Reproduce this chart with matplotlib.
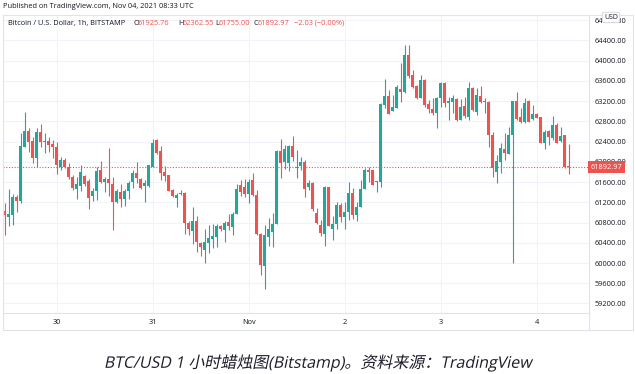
import matplotlib
matplotlib.use("Agg")
import matplotlib.pyplot as plt
from matplotlib.lines import Line2D
from matplotlib.patches import Rectangle
from matplotlib.patheffects import AbstractPathEffect
from matplotlib.transforms import Affine2D
import numpy as np

# Timmesljus BTC/USD (Bitstamp), 29 okt 11:00 -> 4 nov 08:00 UTC
opens = [61035, 60916, 60950, 61312, 61233, 62300, 62610, 62412, 62076, 62590,
         62399, 62410, 62353, 62287, 61905, 62037, 61892, 61694, 61464, 61529,
         61721, 61622, 61325, 61431, 61839, 61596, 61661, 61556, 61213, 61398,
         61259, 61431, 61602, 61773, 61668, 61530, 61530, 61905, 62432, 62215,
         61800, 61740, 61444, 61292, 61358, 61378, 60798, 60640, 60831, 60402,
         60257, 60389, 60475, 60521, 60732,
         60653, 60818, 60719, 60969, 61543, 61510, 61365, 61641, 61345, 60567,
         59948, 60521, 60620, 60772, 62215, 62004, 61971, 62320, 61872, 61918,
         62004, 61497, 61589, 60983, 60752, 60574, 61510, 60666, 60765, 61147,
         60917, 61015, 61391, 60950, 61101, 61464, 61839, 61839, 61596,
         61609, 63124, 63302, 62998, 63058, 63434, 63388, 64113, 63717, 63500,
         63256, 63619, 63144, 63045, 62972, 63256, 63566, 63170, 63190, 63243,
         62828, 63104, 62880, 63467, 62992, 63302, 63190, 63190, 62531, 61806,
         62004, 62254, 62155, 62531, 63203, 62894, 62795, 63203, 62847, 62946,
         62880, 62380, 62617, 62465, 62729, 62419, 62531, 61925.76]
highs = [61180, 61457, 61365, 61338, 62564, 62986, 62663, 62498, 62676, 62755,
         62564, 62498, 62432, 62399, 62103, 62070, 61971, 61740, 61707, 61938,
         61740, 61655, 61477, 61905, 62017, 61707, 62268, 61694, 61457, 61556,
         61457, 61628, 61832, 62004, 61681, 61641, 61938, 62452, 62445, 62314,
         61918, 61740, 61457, 61378, 61444, 61411, 60838, 61114, 60930, 60422,
         60666, 60752, 60765, 60765, 60752,
         60831, 60969, 61015, 61562, 61642, 61655, 61655, 61786, 61444, 60587,
         60752, 60883, 60983, 62235, 62446, 62333, 62333, 62511, 62235, 62103,
         62037, 61641, 61609, 61081, 60851, 61523, 61510, 60930, 61213, 61180,
         61213, 61609, 61477, 61213, 61642, 61872, 61905, 61839, 61628,
         63157, 63632, 63421, 63322, 63520, 63948, 64310, 64310, 63816, 63520,
         63717, 63632, 63223, 63256, 63289, 63586, 63586, 63289, 63322, 63269,
         63243, 63289, 63572, 63474, 63454, 63500, 63256, 63210, 62597, 62136,
         62366, 62564, 62696, 63203, 63388, 63058, 63256, 63223, 63124, 62959,
         62893, 62630, 62630, 62907, 62775, 62683, 62531, 62362.55]
lows = [60554, 60732, 60752, 61015, 61193, 62300, 62202, 61971, 61905, 62300,
        62182, 62202, 62070, 61754, 61840, 61872, 61655, 61444, 61259, 61431,
        61529, 61068, 61233, 61246, 61576, 61411, 61325, 60653, 61193, 61101,
        61134, 61259, 61490, 61576, 61464, 61213, 61510, 61892, 62149, 61641,
        61628, 61424, 61299, 61101, 61345, 60574, 60554, 60376, 60224, 60145,
        59994, 60191, 60290, 60323, 60640,
        60422, 60653, 60554, 60969, 61325, 61312, 61180, 61325, 60561, 59763,
        59486, 60336, 60323, 60772, 61674, 61852, 61820, 62017, 61674, 61840,
        61312, 61444, 61035, 60772, 60541, 60343, 60732, 60455, 60666, 60818,
        60666, 60851, 60864, 60837, 61101, 61464, 61609, 61543, 61411,
        61510, 63058, 62946, 62998, 63058, 63177, 63355, 63652, 63454, 63243,
        63256, 63078, 62959, 62926, 62663, 63078, 63078, 62828, 62972, 62814,
        62828, 62861, 62828, 63012, 62926, 63170, 62972, 62287, 61707, 61576,
        61773, 62037, 62155, 60007, 62828, 62762, 62775, 62795, 62828, 62861,
        62366, 62248, 62334, 62432, 62366, 62399, 61872, 61755.00]
closes = [60943, 60969, 61312, 61233, 62320, 62610, 62399, 62076, 62590, 62399,
          62410, 62333, 62300, 61938, 62037, 61905, 61694, 61490, 61562, 61806,
          61562, 61292, 61424, 61826, 61596, 61661, 61582, 61213, 61424, 61266,
          61424, 61582, 61773, 61674, 61477, 61589, 61931, 62366, 62169, 61773,
          61721, 61431, 61325, 61345, 61391, 60798, 60673, 60831, 60422, 60323,
          60422, 60488, 60541, 60732, 60666,
          60798, 60732, 60969, 61464, 61411, 61358, 61602, 61338, 60567, 59961,
          60554, 60666, 60772, 62215, 61971, 62254, 62320, 62103, 61905, 62004,
          61464, 61589, 61068, 60798, 60587, 61510, 60739, 60772, 61147, 60917,
          61015, 61391, 60950, 61114, 61464, 61839, 61800, 61543, 61628,
          63144, 63302, 62946, 63078, 63474, 63388, 64113, 63704, 63487, 63256,
          63619, 63124, 63038, 62972, 63256, 63566, 63170, 63210, 63269, 62828,
          63091, 62913, 63467, 63025, 63322, 63190, 63210, 62531, 61872, 62017,
          62267, 62169, 62531, 63203, 62847, 62795, 63170, 62795, 62946, 62861,
          62380, 62597, 62485, 62729, 62380, 62511, 61892, 61892.97]

day_ticks = [13, 37, 61, 85, 109, 133]
day_labels = ["30", "31", "Nov", "2", "3", "4"]
price_ticks = list(range(59200, 64801, 400))
last_price = 61892.97

W, H = 635, 374
UP, DOWN = "#26a69a", "#ef5350"
FRAME = "#e0e3eb"
GRID = "#f0f3fa"
TXT = "#131722"


def fx(x):
    return x / W


def fy(y):
    return 1 - y / H


class Skew(AbstractPathEffect):
    # lutar texten (konstgjord kursiv, även för kinesiska tecken)
    def __init__(self, y0, deg):
        super().__init__()
        self.sk = Affine2D().translate(0, -y0).skew_deg(deg, 0).translate(0, y0)

    def draw_path(self, renderer, gc, tpath, affine, rgbFace=None):
        renderer.draw_path(gc, tpath, affine + self.sk, rgbFace)


fig = plt.figure(figsize=(W / 100, H / 100), dpi=100)
fig.patch.set_facecolor("white")

# plottyta
ax = fig.add_axes([fx(3), fy(313), (589 - 3) / W, (313 - 15) / H])
ax.set_facecolor("white")

o = np.array(opens)
h = np.array(highs)
l = np.array(lows)
c = np.array(closes)
x = np.arange(len(o))
col = np.where(c >= o, UP, DOWN)

ax.vlines(x, l, h, colors=col, linewidth=0.8, zorder=2)
body_low = np.minimum(o, c)
body_h = np.maximum(np.abs(c - o), 12)
ax.bar(x, body_h, bottom=body_low, width=0.68, color=col, linewidth=0, zorder=3)

ax.axhline(last_price, color=DOWN, linestyle=(0, (1, 1.5)), linewidth=0.8, zorder=4)

ax.set_xlim(-0.43, 146.1)
ax.set_ylim(59012, 64903)
ax.set_xticks(day_ticks)
ax.set_xticklabels(day_labels)
ax.set_yticks(price_ticks)
ax.set_yticklabels([f"{p:.2f}" for p in price_ticks])
ax.yaxis.tick_right()
ax.tick_params(axis="y", length=0, pad=4.3, labelsize=5.3, labelcolor=TXT)
ax.tick_params(axis="x", length=0, pad=4.5, labelsize=5.3, labelcolor=TXT)
for lab in ax.get_xticklabels() + ax.get_yticklabels():
    lab.set_fontfamily("Open Sans")
ax.grid(True, color=GRID, linewidth=0.8, zorder=0)
ax.set_axisbelow(True)
for s in ["top", "left"]:
    ax.spines[s].set_visible(False)
for s in ["bottom", "right"]:
    ax.spines[s].set_color(FRAME)
    ax.spines[s].set_linewidth(0.8)

# prisetikett
ax.text(1.003, last_price, f"{last_price:.2f}", transform=ax.get_yaxis_transform(),
        ha="left", va="center", color="white", fontsize=5.3, family="Open Sans",
        zorder=10, clip_on=False,
        bbox=dict(boxstyle="square,pad=0.35", fc=DOWN, ec="none"))

# ram runt diagrammet
fig.add_artist(Rectangle((fx(3), fy(330)), (633 - 3) / W, (330 - 15) / H,
                         transform=fig.transFigure, fill=False, ec=FRAME, lw=0.8))
fig.add_artist(Line2D([fx(589), fx(589)], [fy(313), fy(330)],
                      transform=fig.transFigure, color=FRAME, lw=0.8))

# USD-bricka
fig.text(fx(611), fy(17.5), "USD", fontsize=5, color=TXT, family="Open Sans",
         ha="center", va="center",
         bbox=dict(boxstyle="round,pad=0.25", fc="white", ec="#d1d4dc", lw=0.6))

# rubriker
fig.text(fx(3), fy(7), "Published on TradingView.com, Nov 04, 2021 08:33 UTC",
         fontsize=5.3, color=TXT, family="Open Sans", ha="left", va="center")
hdr_y = fy(23.5)
fig.text(fx(8), hdr_y, "Bitcoin / U.S. Dollar, 1h, BITSTAMP", fontsize=5.3,
         color=TXT, family="Open Sans", ha="left", va="center")
parts = [(133, "O", TXT), (138, "61925.76", DOWN), (178, "H", TXT), (183, "62362.55", DOWN),
         (215, "L", TXT), (219, "61755.00", DOWN), (253, "C", TXT), (258, "61892.97", DOWN),
         (294, "\u22122.03 (\u22120.00%)", DOWN)]
for px_, s, cc in parts:
    fig.text(fx(px_), hdr_y, s, fontsize=5.3, color=cc, family="Open Sans",
             ha="left", va="center")

# bildtext
fig.text(fx(318), fy(363), "BTC/USD 1 小时蜡烛图(Bitstamp)。资料来源：TradingView",
         fontsize=11.5, color="#1c1c2a",
         family=["Open Sans", "Noto Sans CJK SC"], ha="center", va="center",
         path_effects=[Skew(H - 368, 12)])

fig.savefig("out.png", dpi=100, facecolor="white")
